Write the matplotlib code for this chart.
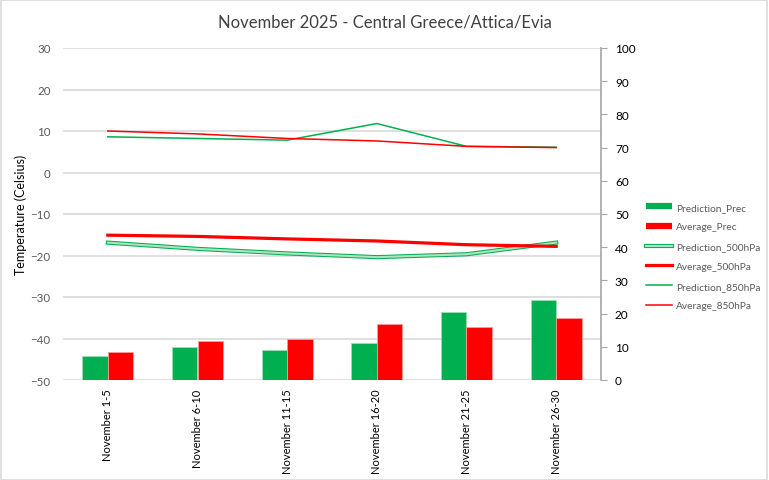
import matplotlib
matplotlib.use('Agg')
import matplotlib.pyplot as plt
from matplotlib.lines import Line2D
from matplotlib.patches import Rectangle
import numpy as np

periodos = ['November 1-5', 'November 6-10', 'November 11-15',
            'November 16-20', 'November 21-25', 'November 26-30']

# precipitacao (eixo direito)
prec_prev = [7.3, 9.8, 9.0, 11.1, 20.4, 24.0]
prec_media = [8.4, 11.7, 12.3, 17.0, 16.0, 18.6]

# temperaturas (eixo esquerdo)
t500_prev = [-16.9, -18.4, -19.5, -20.4, -19.7, -16.9]
t500_media = [-15.1, -15.4, -16.0, -16.5, -17.4, -17.8]
t850_prev = [8.6, 8.2, 7.8, 11.8, 6.3, 6.1]
t850_media = [10.0, 9.3, 8.2, 7.6, 6.3, 6.0]

verde = '#00B050'
verde_claro = '#aee3c2'
vermelho = '#FF0000'
cinza = '#595959'

plt.rcParams['font.family'] = ['Lato', 'DejaVu Sans']

fig = plt.figure(figsize=(7.69, 4.81), dpi=100)
ax = fig.add_axes([63/769, 100/481, 538/769, 332/481])
ax2 = ax.twinx()

x = np.arange(len(periodos))
w = 0.285

ax2.bar(x - w/2, prec_prev, width=w, color=verde, edgecolor='#9fdcb8', linewidth=0.6, zorder=2)
ax2.bar(x + w/2, prec_media, width=w, color=vermelho, edgecolor='#ff9a9a', linewidth=0.6, zorder=2)

ax.plot(x, t500_prev, color=verde, lw=3.0, zorder=3, solid_joinstyle='round')
ax.plot(x, t500_prev, color=verde_claro, lw=1.5, zorder=3, solid_joinstyle='round')
ax.plot(x, t500_media, color=vermelho, lw=2.3, zorder=3)
ax.plot(x, t850_prev, color=verde, lw=1.1, zorder=3)
ax.plot(x, t850_media, color=vermelho, lw=1.1, zorder=3)

ax.set_xlim(-0.5, len(periodos) - 0.5)
ax.set_ylim(-50, 30)
ax.set_yticks(range(-50, 31, 10))
ax.yaxis.grid(True, color='#D9D9D9', lw=1.2)
ax.set_axisbelow(True)
ax.set_xticks(x)
ax.set_xticklabels(periodos, rotation=90, fontsize=8, color='black')
ax.tick_params(axis='x', length=0, pad=6)
ax.tick_params(axis='y', length=0, labelsize=8.3, labelcolor=cinza, pad=9)
ax.set_ylabel('Temperature (Celsius)', fontsize=9, color='black')
ax.yaxis.set_label_coords(-36/538, 0.5)

ax2.set_ylim(0, 100)
ax2.set_yticks(range(0, 101, 10))
ax2.tick_params(axis='y', length=4, color='#A6A6A6', labelsize=8.5, labelcolor='black', pad=6)

for s in ['top', 'left', 'right', 'bottom']:
    ax.spines[s].set_visible(False)
for s in ['top', 'left', 'bottom']:
    ax2.spines[s].set_visible(False)
ax2.spines['right'].set_color('#A6A6A6')
ax2.spines['right'].set_linewidth(1.2)

fig.suptitle('November 2025 - Central Greece/Attica/Evia', y=1 - 22/481, va='center',
             fontsize=12, color='#404040')

handles = [
    Line2D([], [], color=verde, lw=4.5, solid_capstyle='butt'),
    Line2D([], [], color=vermelho, lw=4.5, solid_capstyle='butt'),
    (Line2D([], [], color=verde, lw=3.0), Line2D([], [], color=verde_claro, lw=1.5)),
    Line2D([], [], color=vermelho, lw=2.3),
    Line2D([], [], color=verde, lw=1.1),
    Line2D([], [], color=vermelho, lw=1.1),
]
nomes = ['Prediction_Prec', 'Average_Prec', 'Prediction_500hPa',
         'Average_500hPa', 'Prediction_850hPa', 'Average_850hPa']
fig.legend(handles, nomes, loc='center left', bbox_to_anchor=(646/769, 1 - 257.5/481),
           frameon=False, fontsize=7.3, handlelength=2.6, handletextpad=0.4,
           labelspacing=1.05, borderpad=0, borderaxespad=0, labelcolor=cinza)

fig.patches.append(Rectangle((0.001, 0.001), 0.997, 0.997, transform=fig.transFigure,
                             fill=False, edgecolor='#D9D9D9', lw=1.2))

fig.savefig('out.png', dpi=100)
